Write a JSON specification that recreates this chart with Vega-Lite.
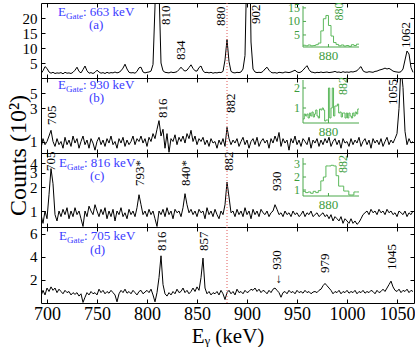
{
"$schema":"https://vega.github.io/schema/vega-lite/v6.json",
"background":"white",
"padding":{"left":5,"top":1,"right":2,"bottom":0},
"spacing":0,
"bounds":"flush",
"config":{"font":"Liberation Serif","view":{"stroke":"#000","strokeWidth":1},
"axis":{"grid":false,"domain":false,"tickColor":"#000","tickSize":-4,"tickWidth":1,"labelFont":"Liberation Serif","labelFontSize":15,"labelColor":"#000","labelPadding":8,"labelFlush":false,"labelOverlap":false,"titleFont":"Liberation Serif","titleFontWeight":"normal","titleColor":"#000"}},
"datasets":{
"a":[{"e":694,"c":1.5},{"e":696,"c":2.4},{"e":698,"c":3.8},{"e":700,"c":3.2},{"e":702,"c":2.0},{"e":704,"c":1.6},{"e":706,"c":1.9},{"e":708,"c":1.5},{"e":710,"c":1.7},{"e":712,"c":1.6},
{"e":714,"c":1.8},{"e":716,"c":1.4},{"e":718,"c":1.9},{"e":720,"c":1.6},{"e":722,"c":1.7},{"e":724,"c":1.5},{"e":726,"c":1.9},{"e":728,"c":2.6},{"e":730,"c":3.6},{"e":732,"c":2.2},
{"e":734,"c":1.7},{"e":736,"c":2.8},{"e":738,"c":4.0},{"e":740,"c":2.4},{"e":742,"c":1.6},{"e":744,"c":1.8},{"e":746,"c":1.5},{"e":748,"c":1.9},{"e":750,"c":2.6},{"e":752,"c":2.0},
{"e":754,"c":1.6},{"e":756,"c":1.8},{"e":758,"c":1.5},{"e":760,"c":1.9},{"e":762,"c":1.6},{"e":764,"c":1.8},{"e":766,"c":1.7},{"e":768,"c":2.0},{"e":770,"c":1.7},{"e":772,"c":1.9},
{"e":774,"c":2.4},{"e":776,"c":3.3},{"e":778,"c":4.6},{"e":780,"c":3.0},{"e":782,"c":1.9},{"e":784,"c":1.7},{"e":786,"c":1.8},{"e":788,"c":1.6},{"e":790,"c":2.2},{"e":792,"c":3.4},
{"e":794,"c":3.6},{"e":796,"c":2.0},{"e":798,"c":1.7},{"e":800,"c":1.9},{"e":802,"c":2.0},{"e":804,"c":2.3},{"e":806,"c":4.5},{"e":808,"c":24},{"e":810,"c":60},{"e":812,"c":30},
{"e":814,"c":5},{"e":816,"c":2.4},{"e":818,"c":1.9},{"e":820,"c":1.8},{"e":822,"c":1.7},{"e":824,"c":2.0},{"e":826,"c":1.8},{"e":828,"c":1.9},{"e":830,"c":2.1},{"e":832,"c":2.8},
{"e":834,"c":3.6},{"e":836,"c":2.8},{"e":838,"c":2.3},{"e":840,"c":2.6},{"e":842,"c":3.5},{"e":844,"c":4.4},{"e":846,"c":3.2},{"e":848,"c":2.4},{"e":850,"c":2.3},{"e":852,"c":3.5},
{"e":854,"c":4.0},{"e":856,"c":2.4},{"e":858,"c":1.8},{"e":860,"c":1.9},{"e":862,"c":1.7},{"e":864,"c":1.9},{"e":866,"c":1.6},{"e":868,"c":1.8},{"e":870,"c":1.7},{"e":872,"c":1.9},
{"e":874,"c":1.8},{"e":876,"c":2.2},{"e":878,"c":6.0},{"e":880,"c":12.8},{"e":882,"c":5.5},{"e":884,"c":2.2},{"e":886,"c":1.8},{"e":888,"c":1.7},{"e":890,"c":1.9},{"e":892,"c":1.8},
{"e":894,"c":2.0},{"e":896,"c":3.0},{"e":898,"c":7.5},{"e":900,"c":40},{"e":902,"c":60},{"e":904,"c":12},{"e":906,"c":3.0},{"e":908,"c":2.0},{"e":910,"c":1.8},{"e":912,"c":1.9},
{"e":914,"c":1.8},{"e":916,"c":2.2},{"e":918,"c":3.0},{"e":920,"c":3.6},{"e":922,"c":2.6},{"e":924,"c":1.9},{"e":926,"c":1.7},{"e":928,"c":1.8},{"e":930,"c":1.6},{"e":932,"c":1.9},
{"e":934,"c":1.8},{"e":936,"c":1.7},{"e":938,"c":2.0},{"e":940,"c":1.9},{"e":942,"c":1.8},{"e":944,"c":2.0},{"e":946,"c":2.3},{"e":948,"c":2.6},{"e":950,"c":2.0},{"e":952,"c":1.8},
{"e":954,"c":2.0},{"e":956,"c":2.6},{"e":958,"c":3.4},{"e":960,"c":4.1},{"e":962,"c":2.8},{"e":964,"c":2.0},{"e":966,"c":1.9},{"e":968,"c":1.7},{"e":970,"c":1.9},{"e":972,"c":1.8},
{"e":974,"c":2.0},{"e":976,"c":1.8},{"e":978,"c":1.9},{"e":980,"c":2.0},{"e":982,"c":1.8},{"e":984,"c":1.9},{"e":986,"c":2.0},{"e":988,"c":2.2},{"e":990,"c":1.9},{"e":992,"c":2.0},
{"e":994,"c":1.8},{"e":996,"c":2.1},{"e":998,"c":1.9},{"e":1000,"c":2.0},{"e":1002,"c":1.9},{"e":1004,"c":2.1},{"e":1006,"c":2.0},{"e":1008,"c":2.2},{"e":1010,"c":2.4},{"e":1012,"c":3.2},
{"e":1014,"c":3.8},{"e":1016,"c":2.4},{"e":1018,"c":2.0},{"e":1020,"c":1.9},{"e":1022,"c":2.1},{"e":1024,"c":2.0},{"e":1026,"c":1.9},{"e":1028,"c":2.2},{"e":1030,"c":2.3},{"e":1032,"c":2.6},
{"e":1034,"c":2.8},{"e":1036,"c":3.0},{"e":1038,"c":3.3},{"e":1040,"c":3.0},{"e":1042,"c":3.2},{"e":1044,"c":2.8},{"e":1046,"c":2.3},{"e":1048,"c":2.1},{"e":1050,"c":2.0},{"e":1052,"c":1.9},
{"e":1054,"c":2.1},{"e":1056,"c":3.0},{"e":1058,"c":6.0},{"e":1060,"c":9.0},{"e":1062,"c":8.0},{"e":1064,"c":3.5},{"e":1066,"c":1.9}],
"b":[{"e":694,"c":0.8},{"e":696,"c":1.1},{"e":698,"c":0.9},{"e":700,"c":1.0},{"e":702,"c":1.2},{"e":704,"c":1.45},{"e":706,"c":1.0},{"e":708,"c":0.85},{"e":710,"c":1.1},{"e":712,"c":0.9},
{"e":714,"c":1.0},{"e":716,"c":0.8},{"e":718,"c":1.15},{"e":720,"c":0.9},{"e":722,"c":1.05},{"e":724,"c":0.85},{"e":726,"c":1.2},{"e":728,"c":0.95},{"e":730,"c":1.1},{"e":732,"c":0.8},
{"e":734,"c":1.0},{"e":736,"c":1.2},{"e":738,"c":0.9},{"e":740,"c":1.05},{"e":742,"c":0.8},{"e":744,"c":1.1},{"e":746,"c":0.95},{"e":748,"c":0.75},{"e":750,"c":1.0},{"e":752,"c":1.15},
{"e":754,"c":0.9},{"e":756,"c":1.05},{"e":758,"c":0.85},{"e":760,"c":1.1},{"e":762,"c":0.95},{"e":764,"c":1.2},{"e":766,"c":0.9},{"e":768,"c":1.0},{"e":770,"c":0.8},{"e":772,"c":1.1},
{"e":774,"c":0.95},{"e":776,"c":1.15},{"e":778,"c":0.85},{"e":780,"c":1.05},{"e":782,"c":0.9},{"e":784,"c":1.0},{"e":786,"c":1.2},{"e":788,"c":0.9},{"e":790,"c":1.1},{"e":792,"c":1.0},
{"e":794,"c":1.2},{"e":796,"c":0.95},{"e":798,"c":1.1},{"e":800,"c":0.85},{"e":802,"c":1.15},{"e":804,"c":1.0},{"e":806,"c":1.3},{"e":808,"c":1.1},{"e":810,"c":1.5},{"e":812,"c":2.0},
{"e":814,"c":1.2},{"e":816,"c":1.5},{"e":818,"c":0.8},{"e":820,"c":1.3},{"e":822,"c":0.7},{"e":824,"c":1.1},{"e":826,"c":1.0},{"e":828,"c":1.25},{"e":830,"c":0.9},{"e":832,"c":1.15},
{"e":834,"c":1.0},{"e":836,"c":1.2},{"e":838,"c":0.95},{"e":840,"c":1.3},{"e":842,"c":1.1},{"e":844,"c":1.45},{"e":846,"c":1.0},{"e":848,"c":1.2},{"e":850,"c":0.9},{"e":852,"c":1.1},
{"e":854,"c":1.0},{"e":856,"c":1.15},{"e":858,"c":0.9},{"e":860,"c":1.05},{"e":862,"c":0.85},{"e":864,"c":1.1},{"e":866,"c":0.95},{"e":868,"c":1.0},{"e":870,"c":0.8},{"e":872,"c":1.05},
{"e":874,"c":0.9},{"e":876,"c":1.1},{"e":878,"c":0.85},{"e":880,"c":1.6},{"e":882,"c":1.1},{"e":884,"c":0.9},{"e":886,"c":1.05},{"e":888,"c":0.95},{"e":890,"c":1.1},{"e":892,"c":0.85},
{"e":894,"c":1.0},{"e":896,"c":1.15},{"e":898,"c":0.9},{"e":900,"c":1.05},{"e":902,"c":0.8},{"e":904,"c":1.0},{"e":906,"c":1.1},{"e":908,"c":0.9},{"e":910,"c":1.15},{"e":912,"c":0.85},
{"e":914,"c":1.0},{"e":916,"c":1.1},{"e":918,"c":0.95},{"e":920,"c":1.05},{"e":922,"c":0.8},{"e":924,"c":1.1},{"e":926,"c":0.95},{"e":928,"c":1.2},{"e":930,"c":1.0},{"e":932,"c":1.35},
{"e":934,"c":0.85},{"e":936,"c":1.1},{"e":938,"c":0.95},{"e":940,"c":1.05},{"e":942,"c":0.75},{"e":944,"c":1.1},{"e":946,"c":0.95},{"e":948,"c":1.2},{"e":950,"c":0.9},{"e":952,"c":1.05},
{"e":954,"c":0.85},{"e":956,"c":1.1},{"e":958,"c":1.0},{"e":960,"c":0.9},{"e":962,"c":1.15},{"e":964,"c":0.8},{"e":966,"c":1.05},{"e":968,"c":0.95},{"e":970,"c":1.1},{"e":972,"c":0.85},
{"e":974,"c":1.05},{"e":976,"c":0.9},{"e":978,"c":1.1},{"e":980,"c":0.95},{"e":982,"c":1.15},{"e":984,"c":0.85},{"e":986,"c":1.0},{"e":988,"c":1.1},{"e":990,"c":0.9},{"e":992,"c":1.05},
{"e":994,"c":0.8},{"e":996,"c":1.1},{"e":998,"c":0.95},{"e":1000,"c":1.0},{"e":1002,"c":0.85},{"e":1004,"c":1.1},{"e":1006,"c":0.9},{"e":1008,"c":1.05},{"e":1010,"c":0.95},{"e":1012,"c":1.15},
{"e":1014,"c":0.85},{"e":1016,"c":1.0},{"e":1018,"c":1.1},{"e":1020,"c":0.9},{"e":1022,"c":1.05},{"e":1024,"c":0.8},{"e":1026,"c":1.1},{"e":1028,"c":0.95},{"e":1030,"c":1.05},{"e":1032,"c":0.9},
{"e":1034,"c":1.1},{"e":1036,"c":0.85},{"e":1038,"c":1.0},{"e":1040,"c":1.15},{"e":1042,"c":0.9},{"e":1044,"c":1.05},{"e":1046,"c":0.95},{"e":1048,"c":1.1},{"e":1050,"c":1.3},{"e":1052,"c":3.0},
{"e":1054,"c":12},{"e":1056,"c":6.0},{"e":1058,"c":1.4},{"e":1060,"c":0.9},{"e":1062,"c":1.1},{"e":1064,"c":0.95},{"e":1066,"c":1.0}],
"c":[{"e":694,"c":0.9},{"e":696,"c":0.7},{"e":698,"c":1.0},{"e":700,"c":0.8},{"e":702,"c":1.6},{"e":704,"c":3.4},{"e":706,"c":2.2},{"e":708,"c":0.9},{"e":710,"c":0.75},{"e":712,"c":1.0},
{"e":714,"c":0.85},{"e":716,"c":1.05},{"e":718,"c":0.9},{"e":720,"c":1.1},{"e":722,"c":0.8},{"e":724,"c":1.0},{"e":726,"c":0.85},{"e":728,"c":1.1},{"e":730,"c":0.9},{"e":732,"c":1.0},
{"e":734,"c":0.8},{"e":736,"c":0.64},{"e":738,"c":1.0},{"e":740,"c":0.85},{"e":742,"c":1.15},{"e":744,"c":1.0},{"e":746,"c":0.9},{"e":748,"c":1.2},{"e":750,"c":1.0},{"e":752,"c":0.85},
{"e":754,"c":1.05},{"e":756,"c":0.9},{"e":758,"c":1.1},{"e":760,"c":0.8},{"e":762,"c":1.0},{"e":764,"c":0.85},{"e":766,"c":1.05},{"e":768,"c":0.75},{"e":770,"c":1.0},{"e":772,"c":0.9},
{"e":774,"c":1.1},{"e":776,"c":0.85},{"e":778,"c":0.95},{"e":780,"c":0.8},{"e":782,"c":1.05},{"e":784,"c":0.9},{"e":786,"c":1.0},{"e":788,"c":0.85},{"e":790,"c":1.1},{"e":792,"c":1.6},
{"e":794,"c":1.2},{"e":796,"c":0.9},{"e":798,"c":1.0},{"e":800,"c":0.85},{"e":802,"c":1.05},{"e":804,"c":0.9},{"e":806,"c":1.0},{"e":808,"c":0.8},{"e":810,"c":0.64},{"e":812,"c":1.0},
{"e":814,"c":0.9},{"e":816,"c":1.05},{"e":818,"c":0.85},{"e":820,"c":1.1},{"e":822,"c":0.9},{"e":824,"c":1.0},{"e":826,"c":0.8},{"e":828,"c":1.05},{"e":830,"c":0.95},{"e":832,"c":1.0},
{"e":834,"c":0.85},{"e":836,"c":1.1},{"e":838,"c":1.65},{"e":840,"c":1.2},{"e":842,"c":0.95},{"e":844,"c":1.05},{"e":846,"c":0.9},{"e":848,"c":1.0},{"e":850,"c":0.85},{"e":852,"c":1.05},
{"e":854,"c":0.95},{"e":856,"c":1.0},{"e":858,"c":0.8},{"e":860,"c":1.1},{"e":862,"c":0.9},{"e":864,"c":1.0},{"e":866,"c":0.85},{"e":868,"c":1.05},{"e":870,"c":0.9},{"e":872,"c":0.8},
{"e":874,"c":1.0},{"e":876,"c":0.9},{"e":878,"c":1.2},{"e":880,"c":2.3},{"e":882,"c":1.5},{"e":884,"c":0.95},{"e":886,"c":1.0},{"e":888,"c":0.85},{"e":890,"c":1.05},{"e":892,"c":0.9},
{"e":894,"c":1.0},{"e":896,"c":0.85},{"e":898,"c":1.1},{"e":900,"c":0.9},{"e":902,"c":1.0},{"e":904,"c":0.8},{"e":906,"c":1.05},{"e":908,"c":0.9},{"e":910,"c":1.0},{"e":912,"c":0.85},
{"e":914,"c":1.05},{"e":916,"c":0.95},{"e":918,"c":0.9},{"e":920,"c":1.0},{"e":922,"c":0.85},{"e":924,"c":0.95},{"e":926,"c":1.0},{"e":928,"c":1.2},{"e":930,"c":1.05},{"e":932,"c":0.9},
{"e":934,"c":0.95},{"e":936,"c":0.85},{"e":938,"c":1.0},{"e":940,"c":0.9},{"e":942,"c":0.95},{"e":944,"c":0.85},{"e":946,"c":1.0},{"e":948,"c":0.9},{"e":950,"c":0.95},{"e":952,"c":0.85},
{"e":954,"c":0.9},{"e":956,"c":1.0},{"e":958,"c":0.85},{"e":960,"c":0.95},{"e":962,"c":0.9},{"e":964,"c":1.0},{"e":966,"c":0.85},{"e":968,"c":0.9},{"e":970,"c":0.95},{"e":972,"c":0.85},
{"e":974,"c":0.9},{"e":976,"c":0.95},{"e":978,"c":0.85},{"e":980,"c":0.9},{"e":982,"c":0.8},{"e":984,"c":0.9},{"e":986,"c":0.75},{"e":988,"c":0.85},{"e":990,"c":0.8},{"e":992,"c":0.75},
{"e":994,"c":0.85},{"e":996,"c":0.7},{"e":998,"c":0.8},{"e":1000,"c":0.75},{"e":1002,"c":0.7},{"e":1004,"c":0.8},{"e":1006,"c":0.7},{"e":1008,"c":0.75},{"e":1010,"c":0.68},{"e":1012,"c":0.72},
{"e":1014,"c":0.8},{"e":1016,"c":0.9},{"e":1018,"c":0.95},{"e":1020,"c":1.0},{"e":1022,"c":0.9},{"e":1024,"c":1.05},{"e":1026,"c":0.95},{"e":1028,"c":1.0},{"e":1030,"c":0.9},{"e":1032,"c":1.05},
{"e":1034,"c":0.95},{"e":1036,"c":1.0},{"e":1038,"c":0.9},{"e":1040,"c":1.05},{"e":1042,"c":0.95},{"e":1044,"c":1.0},{"e":1046,"c":0.9},{"e":1048,"c":0.95},{"e":1050,"c":0.85},{"e":1052,"c":1.0},
{"e":1054,"c":0.95},{"e":1056,"c":0.9},{"e":1058,"c":1.0},{"e":1060,"c":0.85},{"e":1062,"c":0.95},{"e":1064,"c":0.9},{"e":1066,"c":1.0}],
"d":[{"e":694,"c":0.6},{"e":696,"c":1.1},{"e":698,"c":0.7},{"e":700,"c":1.3},{"e":702,"c":1.0},{"e":704,"c":1.4},{"e":706,"c":1.1},{"e":708,"c":1.3},{"e":710,"c":0.9},{"e":712,"c":1.2},
{"e":714,"c":1.0},{"e":716,"c":0.8},{"e":718,"c":1.1},{"e":720,"c":0.9},{"e":722,"c":1.0},{"e":724,"c":0.7},{"e":726,"c":0.9},{"e":728,"c":0.75},{"e":730,"c":0.9},{"e":732,"c":0.6},
{"e":734,"c":0.8},{"e":736,"c":0.05},{"e":738,"c":0.5},{"e":740,"c":0.9},{"e":742,"c":0.7},{"e":744,"c":1.0},{"e":746,"c":0.8},{"e":748,"c":0.9},{"e":750,"c":0.7},{"e":752,"c":1.2},
{"e":754,"c":0.9},{"e":756,"c":1.1},{"e":758,"c":0.8},{"e":760,"c":1.0},{"e":762,"c":0.85},{"e":764,"c":1.1},{"e":766,"c":0.9},{"e":768,"c":0.7},{"e":770,"c":0.1},{"e":772,"c":0.8},
{"e":774,"c":1.1},{"e":776,"c":0.9},{"e":778,"c":1.2},{"e":780,"c":0.85},{"e":782,"c":1.0},{"e":784,"c":0.8},{"e":786,"c":1.1},{"e":788,"c":0.9},{"e":790,"c":0.7},{"e":792,"c":1.0},
{"e":794,"c":1.1},{"e":796,"c":0.8},{"e":798,"c":0.95},{"e":800,"c":1.1},{"e":802,"c":0.9},{"e":804,"c":1.2},{"e":806,"c":0.7},{"e":808,"c":0.1},{"e":810,"c":0.9},{"e":812,"c":2.2},
{"e":814,"c":4.1},{"e":816,"c":1.6},{"e":818,"c":0.8},{"e":820,"c":0.6},{"e":822,"c":0.9},{"e":824,"c":0.7},{"e":826,"c":1.0},{"e":828,"c":0.8},{"e":830,"c":1.2},{"e":832,"c":0.9},
{"e":834,"c":1.0},{"e":836,"c":1.3},{"e":838,"c":0.9},{"e":840,"c":1.1},{"e":842,"c":0.8},{"e":844,"c":1.0},{"e":846,"c":1.3},{"e":848,"c":1.0},{"e":850,"c":1.4},{"e":852,"c":1.1},
{"e":854,"c":2.2},{"e":856,"c":3.9},{"e":858,"c":1.3},{"e":860,"c":0.8},{"e":862,"c":1.0},{"e":864,"c":0.7},{"e":866,"c":0.9},{"e":868,"c":0.8},{"e":870,"c":1.0},{"e":872,"c":0.7},
{"e":874,"c":1.1},{"e":876,"c":0.8},{"e":878,"c":0.3},{"e":880,"c":0.9},{"e":882,"c":1.1},{"e":884,"c":0.8},{"e":886,"c":1.0},{"e":888,"c":0.7},{"e":890,"c":1.2},{"e":892,"c":0.9},
{"e":894,"c":1.0},{"e":896,"c":0.8},{"e":898,"c":1.1},{"e":900,"c":0.9},{"e":902,"c":1.0},{"e":904,"c":1.2},{"e":906,"c":1.1},{"e":908,"c":1.3},{"e":910,"c":1.0},{"e":912,"c":1.2},
{"e":914,"c":0.9},{"e":916,"c":1.1},{"e":918,"c":1.0},{"e":920,"c":0.8},{"e":922,"c":1.1},{"e":924,"c":0.9},{"e":926,"c":1.2},{"e":928,"c":1.3},{"e":930,"c":1.1},{"e":932,"c":0.9},
{"e":934,"c":0.5},{"e":936,"c":0.9},{"e":938,"c":1.0},{"e":940,"c":0.8},{"e":942,"c":1.1},{"e":944,"c":0.9},{"e":946,"c":1.0},{"e":948,"c":0.8},{"e":950,"c":1.1},{"e":952,"c":0.9},
{"e":954,"c":1.0},{"e":956,"c":0.85},{"e":958,"c":1.1},{"e":960,"c":0.9},{"e":962,"c":1.0},{"e":964,"c":0.8},{"e":966,"c":0.95},{"e":968,"c":1.0},{"e":970,"c":0.9},{"e":972,"c":1.1},
{"e":974,"c":1.2},{"e":976,"c":1.5},{"e":978,"c":1.7},{"e":980,"c":1.5},{"e":982,"c":1.3},{"e":984,"c":1.1},{"e":986,"c":0.8},{"e":988,"c":1.0},{"e":990,"c":0.9},{"e":992,"c":1.1},
{"e":994,"c":0.8},{"e":996,"c":1.0},{"e":998,"c":0.9},{"e":1000,"c":1.1},{"e":1002,"c":0.85},{"e":1004,"c":1.0},{"e":1006,"c":0.9},{"e":1008,"c":1.1},{"e":1010,"c":0.8},{"e":1012,"c":1.0},
{"e":1014,"c":0.9},{"e":1016,"c":1.1},{"e":1018,"c":0.85},{"e":1020,"c":1.0},{"e":1022,"c":0.9},{"e":1024,"c":1.1},{"e":1026,"c":1.0},{"e":1028,"c":0.8},{"e":1030,"c":1.1},{"e":1032,"c":0.9},
{"e":1034,"c":1.0},{"e":1036,"c":1.2},{"e":1038,"c":1.0},{"e":1040,"c":1.3},{"e":1042,"c":1.6},{"e":1044,"c":1.9},{"e":1046,"c":1.4},{"e":1048,"c":1.1},{"e":1050,"c":1.0},{"e":1052,"c":1.2},
{"e":1054,"c":0.9},{"e":1056,"c":1.1},{"e":1058,"c":1.0},{"e":1060,"c":1.2},{"e":1062,"c":0.9},{"e":1064,"c":1.1},{"e":1066,"c":1.0}],
"ia":[{"e":870,"c":1.2},{"e":871,"c":1.0},{"e":872,"c":1.3},{"e":873,"c":1.0},{"e":874,"c":1.1},{"e":875,"c":1.4},{"e":876,"c":2.0},{"e":877,"c":6.5},{"e":878,"c":11.0},{"e":879,"c":12.2},{"e":880,"c":8.5},{"e":881,"c":4.6},{"e":882,"c":2.2},{"e":883,"c":1.5},{"e":884,"c":1.0},{"e":885,"c":1.3},{"e":886,"c":0.9},{"e":887,"c":1.1},{"e":888,"c":0.8},{"e":889,"c":1.4},{"e":890,"c":1.1},{"e":891,"c":1.6},{"e":892,"c":1.6}],
"ib":[{"e":870,"c":0.45},{"e":870.5,"c":0.7},{"e":871,"c":0.6},{"e":871.5,"c":0.7},{"e":872,"c":0.5},{"e":872.5,"c":0.75},{"e":873,"c":0.6},{"e":873.5,"c":0.8},{"e":874,"c":0.55},{"e":874.5,"c":0.7},{"e":875,"c":0.9},{"e":875.5,"c":0.6},{"e":876,"c":0.5},{"e":876.5,"c":0.95},{"e":877,"c":0.9},{"e":877.5,"c":1.0},{"e":878,"c":0.9},{"e":878.5,"c":0.35},{"e":879,"c":0.4},{"e":879.5,"c":0.4},{"e":880,"c":2.0},{"e":880.5,"c":0.5},{"e":881,"c":1.0},{"e":881.5,"c":2.0},{"e":882,"c":0.6},{"e":882.5,"c":1.1},{"e":883,"c":1.1},{"e":883.5,"c":1.2},{"e":884,"c":0.75},{"e":884.5,"c":0.8},{"e":885,"c":0.55},{"e":885.5,"c":0.75},{"e":886,"c":0.75},{"e":886.5,"c":0.5},{"e":887,"c":0.75},{"e":887.5,"c":0.5},{"e":888,"c":0.75},{"e":888.5,"c":0.6},{"e":889,"c":0.5},{"e":889.5,"c":0.75},{"e":890,"c":0.6},{"e":890.5,"c":0.8},{"e":891,"c":0.7},{"e":891.5,"c":0.95},{"e":892,"c":0.95}],
"ic":[{"e":870,"c":0.9},{"e":871,"c":0.8},{"e":872,"c":0.85},{"e":873,"c":0.75},{"e":874,"c":0.9},{"e":875,"c":0.8},{"e":876,"c":0.95},{"e":877,"c":1.7},{"e":878,"c":2.0},{"e":879,"c":2.85},{"e":880,"c":2.85},{"e":881,"c":2.9},{"e":882,"c":2.85},{"e":883,"c":2.1},{"e":884,"c":1.3},{"e":885,"c":1.3},{"e":886,"c":0.92},{"e":887,"c":0.92},{"e":888,"c":0.62},{"e":889,"c":0.62},{"e":890,"c":0.85},{"e":891,"c":0.85},{"e":892,"c":0.85}],
"lab":[{"p":"a","e":819,"c":17.7,"t":"810"},{"p":"a","e":834,"c":6.0,"t":"834"},{"p":"a","e":874,"c":17.3,"t":"880"},{"p":"a","e":909,"c":18,"t":"902"},{"p":"a","e":1059,"c":10,"t":"1062"},
{"p":"b","e":705,"c":1.73,"t":"705"},{"p":"b","e":816,"c":2.18,"t":"816"},{"p":"b","e":884,"c":2.57,"t":"882"},{"p":"b","e":1046,"c":3.36,"t":"1055"},
{"p":"c","e":704,"c":3.18,"t":"705"},{"p":"c","e":792.5,"c":2.06,"t":"793*"},{"p":"c","e":839,"c":2.06,"t":"840*"},{"p":"c","e":882,"c":3.18,"t":"882"},{"p":"c","e":930,"c":1.78,"t":"930"},
{"p":"d","e":815,"c":4.52,"t":"816"},{"p":"d","e":857,"c":4.52,"t":"857"},{"p":"d","e":930,"c":1.48,"t":"← 930"},{"p":"d","e":978,"c":2.6,"t":"979"},{"p":"d","e":1045,"c":2.87,"t":"1045"}],
"ttl":[{"p":"a","e":711,"c":20.67,"r":": 663 keV","l":"(a)"},{"p":"b","e":711,"c":5.7,"r":": 930 keV","l":"(b)"},{"p":"c","e":712,"c":3.56,"r":" : 816 keV","l":"(c)"},{"p":"d","e":712,"c":5.48,"r":": 705 keV","l":"(d)"}],
"tka":[{"v":5},{"v":10},{"v":15}],
"tkb":[{"v":1},{"v":2}],
"tkc":[{"v":1},{"v":2},{"v":3}]
},
"vconcat":[
{"width":373,"height":75,
"layer":[
 {"layer":[
  {"data":{"name":"a"},"mark":{"type":"line","color":"#000","strokeWidth":1,"clip":true},
   "encoding":{"x":{"field":"e","type":"quantitative","scale":{"domain":[694,1067],"nice":false,"zero":false},"axis":{"orient":"bottom","values":[700,750,800,850,900,950,1000,1050],"labels":false,"title":null}},
   "y":{"field":"c","type":"quantitative","scale":{"domain":[0,25],"nice":false,"zero":false},"axis":{"orient":"left","values":[5,10,15,20],"title":null}}}},
  {"data":{"values":[{"e":880}]},"mark":{"type":"rule","color":"#e05a5a","strokeDash":[1,2],"strokeWidth":1},
   "encoding":{"x":{"field":"e","type":"quantitative","scale":{"domain":[694,1067],"nice":false,"zero":false},"axis":{"orient":"top","values":[700,750,800,850,900,950,1000,1050],"labels":false,"title":null}}}},
  {"data":{"name":"lab"},"transform":[{"filter":"datum.p=='a'"}],"mark":{"type":"text","angle":270,"align":"left","baseline":"middle","fontSize":13,"color":"#000","font":"Liberation Serif"},
   "encoding":{"x":{"field":"e","type":"quantitative","scale":{"domain":[694,1067],"nice":false,"zero":false},"axis":null},
   "y":{"field":"c","type":"quantitative","scale":{"domain":[0,25],"nice":false,"zero":false},"axis":{"orient":"right","values":[5,10,15,20],"labels":false,"title":null}},"text":{"field":"t"}}},
  {"data":{"name":"ttl"},"transform":[{"filter":"datum.p=='a'"}],"mark":{"type":"text","text":"E","align":"left","baseline":"alphabetic","fontSize":13,"color":"#3b3bff","font":"Liberation Serif"},
   "encoding":{"x":{"field":"e","type":"quantitative","scale":{"domain":[694,1067],"nice":false,"zero":false},"axis":null},"y":{"field":"c","type":"quantitative","scale":{"domain":[0,25],"nice":false,"zero":false},"axis":null}}},
  {"data":{"name":"ttl"},"transform":[{"filter":"datum.p=='a'"}],"mark":{"type":"text","text":"Gate","align":"left","baseline":"alphabetic","fontSize":9,"dx":8,"dy":3,"color":"#3b3bff","font":"Liberation Serif"},
   "encoding":{"x":{"field":"e","type":"quantitative","scale":{"domain":[694,1067],"nice":false,"zero":false},"axis":null},"y":{"field":"c","type":"quantitative","scale":{"domain":[0,25],"nice":false,"zero":false},"axis":null}}},
  {"data":{"name":"ttl"},"transform":[{"filter":"datum.p=='a'"}],"mark":{"type":"text","align":"left","baseline":"alphabetic","fontSize":13,"dx":25,"color":"#3b3bff","font":"Liberation Serif"},
   "encoding":{"x":{"field":"e","type":"quantitative","scale":{"domain":[694,1067],"nice":false,"zero":false},"axis":null},"y":{"field":"c","type":"quantitative","scale":{"domain":[0,25],"nice":false,"zero":false},"axis":null},"text":{"field":"r"}}},
  {"data":{"name":"ttl"},"transform":[{"filter":"datum.p=='a'"}],"mark":{"type":"text","align":"left","baseline":"alphabetic","fontSize":13,"dx":31,"dy":13,"color":"#3b3bff","font":"Liberation Serif"},
   "encoding":{"x":{"field":"e","type":"quantitative","scale":{"domain":[694,1067],"nice":false,"zero":false},"axis":null},"y":{"field":"c","type":"quantitative","scale":{"domain":[0,25],"nice":false,"zero":false},"axis":null},"text":{"field":"l"}}}
 ],"resolve":{"axis":{"x":"independent","y":"independent"}}},
 {"layer":[
  {"data":{"name":"ia"},"mark":{"type":"line","interpolate":"step-after","color":"#5cb85c","strokeWidth":1},
   "encoding":{"x":{"field":"e","type":"quantitative","scale":{"domain":[870,892],"range":[262,318],"nice":false,"zero":false},"axis":null},
   "y":{"field":"c","type":"quantitative","scale":{"domain":[0.55,15.7],"range":[44,3],"nice":false,"zero":false},"axis":null}}},
  {"data":{"values":[{}]},"mark":{"type":"rule","color":"#4aa84a","strokeWidth":1},
   "encoding":{"x":{"datum":870,"type":"quantitative"},"y":{"datum":0.55,"type":"quantitative"},"y2":{"datum":15.7}}},
  {"data":{"values":[{}]},"mark":{"type":"rule","color":"#4aa84a","strokeWidth":1},
   "encoding":{"x":{"datum":870,"type":"quantitative"},"x2":{"datum":892},"y":{"datum":0.55,"type":"quantitative"}}},
  {"data":{"name":"tka"},"mark":{"type":"rule","color":"#4aa84a","strokeWidth":1},
   "encoding":{"x":{"datum":870,"type":"quantitative"},"x2":{"datum":871.2},"y":{"field":"v","type":"quantitative"}}},
  {"data":{"name":"tka"},"mark":{"type":"text","align":"right","baseline":"middle","dx":-3,"fontSize":12,"color":"#3c9c3c","font":"Liberation Serif"},
   "encoding":{"x":{"datum":870,"type":"quantitative"},"y":{"field":"v","type":"quantitative"},"text":{"field":"v"}}},
  {"data":{"values":[{}]},"mark":{"type":"rule","color":"#4aa84a","strokeWidth":1},
   "encoding":{"x":{"datum":880,"type":"quantitative"},"y":{"datum":0.55,"type":"quantitative"},"y2":{"datum":1.65}}},
  {"data":{"values":[{}]},"mark":{"type":"text","text":"880","align":"center","baseline":"top","dy":3,"fontSize":13,"color":"#3c9c3c","font":"Liberation Serif"},
   "encoding":{"x":{"datum":880,"type":"quantitative"},"y":{"datum":0.55,"type":"quantitative"}}},
  {"data":{"values":[{"e":884.2,"c":10.3,"t":"880"}]},"mark":{"type":"text","angle":270,"align":"left","baseline":"middle","fontSize":12,"color":"#3c9c3c","font":"Liberation Serif"},
   "encoding":{"x":{"field":"e","type":"quantitative"},"y":{"field":"c","type":"quantitative"},"text":{"field":"t"}}}
 ]}
],
"resolve":{"scale":{"x":"independent","y":"independent"}}},

{"width":373,"height":75,
"layer":[
 {"layer":[
  {"data":{"name":"b"},"mark":{"type":"line","color":"#000","strokeWidth":1,"clip":true},
   "encoding":{"x":{"field":"e","type":"quantitative","scale":{"domain":[694,1067],"nice":false,"zero":false},"axis":{"orient":"bottom","values":[700,750,800,850,900,950,1000,1050],"labels":false,"title":null}},
   "y":{"field":"c","type":"quantitative","scale":{"type":"log","domain":[0.683,8.23],"nice":false},"axis":{"orient":"left","values":[1,3,5],"title":"Counts (10²)","titleFontSize":24,"titleX":-23,"titleY":77,"titleAngle":270,"titleAlign":"center","titleBaseline":"middle"}}}},
  {"data":{"values":[{"e":880}]},"mark":{"type":"rule","color":"#e05a5a","strokeDash":[1,2],"strokeWidth":1},
   "encoding":{"x":{"field":"e","type":"quantitative","scale":{"domain":[694,1067],"nice":false,"zero":false},"axis":{"orient":"top","values":[700,750,800,850,900,950,1000,1050],"labels":false,"title":null}}}},
  {"data":{"name":"lab"},"transform":[{"filter":"datum.p=='b'"}],"mark":{"type":"text","angle":270,"align":"left","baseline":"middle","fontSize":13,"color":"#000","font":"Liberation Serif"},
   "encoding":{"x":{"field":"e","type":"quantitative","scale":{"domain":[694,1067],"nice":false,"zero":false},"axis":null},
   "y":{"field":"c","type":"quantitative","scale":{"type":"log","domain":[0.683,8.23],"nice":false},"axis":{"orient":"right","values":[1,3,5],"labels":false,"title":null}},"text":{"field":"t"}}},
  {"data":{"name":"ttl"},"transform":[{"filter":"datum.p=='b'"}],"mark":{"type":"text","text":"E","align":"left","baseline":"alphabetic","fontSize":13,"color":"#3b3bff","font":"Liberation Serif"},
   "encoding":{"x":{"field":"e","type":"quantitative","scale":{"domain":[694,1067],"nice":false,"zero":false},"axis":null},"y":{"field":"c","type":"quantitative","scale":{"type":"log","domain":[0.683,8.23],"nice":false},"axis":null}}},
  {"data":{"name":"ttl"},"transform":[{"filter":"datum.p=='b'"}],"mark":{"type":"text","text":"Gate","align":"left","baseline":"alphabetic","fontSize":9,"dx":8,"dy":3,"color":"#3b3bff","font":"Liberation Serif"},
   "encoding":{"x":{"field":"e","type":"quantitative","scale":{"domain":[694,1067],"nice":false,"zero":false},"axis":null},"y":{"field":"c","type":"quantitative","scale":{"type":"log","domain":[0.683,8.23],"nice":false},"axis":null}}},
  {"data":{"name":"ttl"},"transform":[{"filter":"datum.p=='b'"}],"mark":{"type":"text","align":"left","baseline":"alphabetic","fontSize":13,"dx":25,"color":"#3b3bff","font":"Liberation Serif"},
   "encoding":{"x":{"field":"e","type":"quantitative","scale":{"domain":[694,1067],"nice":false,"zero":false},"axis":null},"y":{"field":"c","type":"quantitative","scale":{"type":"log","domain":[0.683,8.23],"nice":false},"axis":null},"text":{"field":"r"}}},
  {"data":{"name":"ttl"},"transform":[{"filter":"datum.p=='b'"}],"mark":{"type":"text","align":"left","baseline":"alphabetic","fontSize":13,"dx":31,"dy":13,"color":"#3b3bff","font":"Liberation Serif"},
   "encoding":{"x":{"field":"e","type":"quantitative","scale":{"domain":[694,1067],"nice":false,"zero":false},"axis":null},"y":{"field":"c","type":"quantitative","scale":{"type":"log","domain":[0.683,8.23],"nice":false},"axis":null},"text":{"field":"l"}}}
 ],"resolve":{"axis":{"x":"independent","y":"independent"}}},
 {"layer":[
  {"data":{"name":"ib"},"mark":{"type":"line","interpolate":"step-after","color":"#5cb85c","strokeWidth":1},
   "encoding":{"x":{"field":"e","type":"quantitative","scale":{"domain":[870,892],"range":[262,318],"nice":false,"zero":false},"axis":null},
   "y":{"field":"c","type":"quantitative","scale":{"domain":[0.25,2.4],"range":[45,2],"nice":false,"zero":false},"axis":null}}},
  {"data":{"values":[{}]},"mark":{"type":"rule","color":"#4aa84a","strokeWidth":1},
   "encoding":{"x":{"datum":870,"type":"quantitative"},"y":{"datum":0.25,"type":"quantitative"},"y2":{"datum":2.4}}},
  {"data":{"values":[{}]},"mark":{"type":"rule","color":"#4aa84a","strokeWidth":1},
   "encoding":{"x":{"datum":870,"type":"quantitative"},"x2":{"datum":892},"y":{"datum":0.25,"type":"quantitative"}}},
  {"data":{"name":"tkb"},"mark":{"type":"rule","color":"#4aa84a","strokeWidth":1},
   "encoding":{"x":{"datum":870,"type":"quantitative"},"x2":{"datum":871.2},"y":{"field":"v","type":"quantitative"}}},
  {"data":{"name":"tkb"},"mark":{"type":"text","align":"right","baseline":"middle","dx":-3,"fontSize":12,"color":"#3c9c3c","font":"Liberation Serif"},
   "encoding":{"x":{"datum":870,"type":"quantitative"},"y":{"field":"v","type":"quantitative"},"text":{"field":"v"}}},
  {"data":{"values":[{}]},"mark":{"type":"rule","color":"#4aa84a","strokeWidth":1},
   "encoding":{"x":{"datum":880,"type":"quantitative"},"y":{"datum":0.25,"type":"quantitative"},"y2":{"datum":0.4}}},
  {"data":{"values":[{}]},"mark":{"type":"text","text":"880","align":"center","baseline":"top","dy":3,"fontSize":13,"color":"#3c9c3c","font":"Liberation Serif"},
   "encoding":{"x":{"datum":880,"type":"quantitative"},"y":{"datum":0.25,"type":"quantitative"}}},
  {"data":{"values":[{"e":885.9,"c":1.65,"t":"882"}]},"mark":{"type":"text","angle":270,"align":"left","baseline":"middle","fontSize":12,"color":"#3c9c3c","font":"Liberation Serif"},
   "encoding":{"x":{"field":"e","type":"quantitative"},"y":{"field":"c","type":"quantitative"},"text":{"field":"t"}}}
 ]}
],
"resolve":{"scale":{"x":"independent","y":"independent"}}},

{"width":373,"height":74,
"layer":[
 {"layer":[
  {"data":{"name":"c"},"mark":{"type":"line","color":"#000","strokeWidth":1,"clip":true},
   "encoding":{"x":{"field":"e","type":"quantitative","scale":{"domain":[694,1067],"nice":false,"zero":false},"axis":{"orient":"bottom","values":[700,750,800,850,900,950,1000,1050],"labels":false,"title":null}},
   "y":{"field":"c","type":"quantitative","scale":{"type":"log","domain":[0.63,5.34],"nice":false},"axis":{"orient":"left","values":[1,2,3,4],"title":null}}}},
  {"data":{"values":[{"e":880}]},"mark":{"type":"rule","color":"#e05a5a","strokeDash":[1,2],"strokeWidth":1},
   "encoding":{"x":{"field":"e","type":"quantitative","scale":{"domain":[694,1067],"nice":false,"zero":false},"axis":{"orient":"top","values":[700,750,800,850,900,950,1000,1050],"labels":false,"title":null}}}},
  {"data":{"name":"lab"},"transform":[{"filter":"datum.p=='c'"}],"mark":{"type":"text","angle":270,"align":"left","baseline":"middle","fontSize":13,"color":"#000","font":"Liberation Serif"},
   "encoding":{"x":{"field":"e","type":"quantitative","scale":{"domain":[694,1067],"nice":false,"zero":false},"axis":null},
   "y":{"field":"c","type":"quantitative","scale":{"type":"log","domain":[0.63,5.34],"nice":false},"axis":{"orient":"right","values":[1,2,3,4],"labels":false,"title":null}},"text":{"field":"t"}}},
  {"data":{"name":"ttl"},"transform":[{"filter":"datum.p=='c'"}],"mark":{"type":"text","text":"E","align":"left","baseline":"alphabetic","fontSize":13,"color":"#3b3bff","font":"Liberation Serif"},
   "encoding":{"x":{"field":"e","type":"quantitative","scale":{"domain":[694,1067],"nice":false,"zero":false},"axis":null},"y":{"field":"c","type":"quantitative","scale":{"type":"log","domain":[0.63,5.34],"nice":false},"axis":null}}},
  {"data":{"name":"ttl"},"transform":[{"filter":"datum.p=='c'"}],"mark":{"type":"text","text":"Gate","align":"left","baseline":"alphabetic","fontSize":9,"dx":8,"dy":3,"color":"#3b3bff","font":"Liberation Serif"},
   "encoding":{"x":{"field":"e","type":"quantitative","scale":{"domain":[694,1067],"nice":false,"zero":false},"axis":null},"y":{"field":"c","type":"quantitative","scale":{"type":"log","domain":[0.63,5.34],"nice":false},"axis":null}}},
  {"data":{"name":"ttl"},"transform":[{"filter":"datum.p=='c'"}],"mark":{"type":"text","align":"left","baseline":"alphabetic","fontSize":13,"dx":25,"color":"#3b3bff","font":"Liberation Serif"},
   "encoding":{"x":{"field":"e","type":"quantitative","scale":{"domain":[694,1067],"nice":false,"zero":false},"axis":null},"y":{"field":"c","type":"quantitative","scale":{"type":"log","domain":[0.63,5.34],"nice":false},"axis":null},"text":{"field":"r"}}},
  {"data":{"name":"ttl"},"transform":[{"filter":"datum.p=='c'"}],"mark":{"type":"text","align":"left","baseline":"alphabetic","fontSize":13,"dx":31,"dy":13,"color":"#3b3bff","font":"Liberation Serif"},
   "encoding":{"x":{"field":"e","type":"quantitative","scale":{"domain":[694,1067],"nice":false,"zero":false},"axis":null},"y":{"field":"c","type":"quantitative","scale":{"type":"log","domain":[0.63,5.34],"nice":false},"axis":null},"text":{"field":"l"}}}
 ],"resolve":{"axis":{"x":"independent","y":"independent"}}},
 {"layer":[
  {"data":{"name":"ic"},"mark":{"type":"line","interpolate":"step-after","color":"#5cb85c","strokeWidth":1},
   "encoding":{"x":{"field":"e","type":"quantitative","scale":{"domain":[870,892],"range":[262,318],"nice":false,"zero":false},"axis":null},
   "y":{"field":"c","type":"quantitative","scale":{"domain":[0.54,3.46],"range":[43,5],"nice":false,"zero":false},"axis":null}}},
  {"data":{"values":[{}]},"mark":{"type":"rule","color":"#4aa84a","strokeWidth":1},
   "encoding":{"x":{"datum":870,"type":"quantitative"},"y":{"datum":0.54,"type":"quantitative"},"y2":{"datum":3.46}}},
  {"data":{"values":[{}]},"mark":{"type":"rule","color":"#4aa84a","strokeWidth":1},
   "encoding":{"x":{"datum":870,"type":"quantitative"},"x2":{"datum":892},"y":{"datum":0.54,"type":"quantitative"}}},
  {"data":{"name":"tkc"},"mark":{"type":"rule","color":"#4aa84a","strokeWidth":1},
   "encoding":{"x":{"datum":870,"type":"quantitative"},"x2":{"datum":871.2},"y":{"field":"v","type":"quantitative"}}},
  {"data":{"name":"tkc"},"mark":{"type":"text","align":"right","baseline":"middle","dx":-3,"fontSize":12,"color":"#3c9c3c","font":"Liberation Serif"},
   "encoding":{"x":{"datum":870,"type":"quantitative"},"y":{"field":"v","type":"quantitative"},"text":{"field":"v"}}},
  {"data":{"values":[{}]},"mark":{"type":"rule","color":"#4aa84a","strokeWidth":1},
   "encoding":{"x":{"datum":880,"type":"quantitative"},"y":{"datum":0.54,"type":"quantitative"},"y2":{"datum":0.77}}},
  {"data":{"values":[{}]},"mark":{"type":"text","text":"880","align":"center","baseline":"top","dy":3,"fontSize":13,"color":"#3c9c3c","font":"Liberation Serif"},
   "encoding":{"x":{"datum":880,"type":"quantitative"},"y":{"datum":0.54,"type":"quantitative"}}},
  {"data":{"values":[{"e":885.9,"c":2.31,"t":"882"}]},"mark":{"type":"text","angle":270,"align":"left","baseline":"middle","fontSize":12,"color":"#3c9c3c","font":"Liberation Serif"},
   "encoding":{"x":{"field":"e","type":"quantitative"},"y":{"field":"c","type":"quantitative"},"text":{"field":"t"}}}
 ]}
],
"resolve":{"scale":{"x":"independent","y":"independent"}}},

{"width":373,"height":76,
"layer":[
  {"data":{"name":"d"},"mark":{"type":"line","color":"#000","strokeWidth":1,"clip":true},
   "encoding":{"x":{"field":"e","type":"quantitative","scale":{"domain":[694,1067],"nice":false,"zero":false},"axis":{"orient":"bottom","values":[700,750,800,850,900,950,1000,1050],"format":"d","labelFontSize":18,"labelPadding":6,"title":"Eᵧ (keV)","titleFontSize":21,"titlePadding":2}},
   "y":{"field":"c","type":"quantitative","scale":{"domain":[0,6.6],"nice":false,"zero":false},"axis":{"orient":"left","values":[2,4,6],"title":null}}}},
  {"data":{"values":[{"e":880}]},"mark":{"type":"rule","color":"#e05a5a","strokeDash":[1,2],"strokeWidth":1},
   "encoding":{"x":{"field":"e","type":"quantitative","scale":{"domain":[694,1067],"nice":false,"zero":false},"axis":{"orient":"top","values":[700,750,800,850,900,950,1000,1050],"labels":false,"title":null}}}},
  {"data":{"name":"lab"},"transform":[{"filter":"datum.p=='d'"}],"mark":{"type":"text","angle":270,"align":"left","baseline":"middle","fontSize":13,"color":"#000","font":"Liberation Serif"},
   "encoding":{"x":{"field":"e","type":"quantitative","scale":{"domain":[694,1067],"nice":false,"zero":false},"axis":null},
   "y":{"field":"c","type":"quantitative","scale":{"domain":[0,6.6],"nice":false,"zero":false},"axis":{"orient":"right","values":[2,4,6],"labels":false,"title":null}},"text":{"field":"t"}}},
  {"data":{"name":"ttl"},"transform":[{"filter":"datum.p=='d'"}],"mark":{"type":"text","text":"E","align":"left","baseline":"alphabetic","fontSize":13,"color":"#3b3bff","font":"Liberation Serif"},
   "encoding":{"x":{"field":"e","type":"quantitative","scale":{"domain":[694,1067],"nice":false,"zero":false},"axis":null},"y":{"field":"c","type":"quantitative","scale":{"domain":[0,6.6],"nice":false,"zero":false},"axis":null}}},
  {"data":{"name":"ttl"},"transform":[{"filter":"datum.p=='d'"}],"mark":{"type":"text","text":"Gate","align":"left","baseline":"alphabetic","fontSize":9,"dx":8,"dy":3,"color":"#3b3bff","font":"Liberation Serif"},
   "encoding":{"x":{"field":"e","type":"quantitative","scale":{"domain":[694,1067],"nice":false,"zero":false},"axis":null},"y":{"field":"c","type":"quantitative","scale":{"domain":[0,6.6],"nice":false,"zero":false},"axis":null}}},
  {"data":{"name":"ttl"},"transform":[{"filter":"datum.p=='d'"}],"mark":{"type":"text","align":"left","baseline":"alphabetic","fontSize":13,"dx":25,"color":"#3b3bff","font":"Liberation Serif"},
   "encoding":{"x":{"field":"e","type":"quantitative","scale":{"domain":[694,1067],"nice":false,"zero":false},"axis":null},"y":{"field":"c","type":"quantitative","scale":{"domain":[0,6.6],"nice":false,"zero":false},"axis":null},"text":{"field":"r"}}},
  {"data":{"name":"ttl"},"transform":[{"filter":"datum.p=='d'"}],"mark":{"type":"text","align":"left","baseline":"alphabetic","fontSize":13,"dx":31,"dy":14,"color":"#3b3bff","font":"Liberation Serif"},
   "encoding":{"x":{"field":"e","type":"quantitative","scale":{"domain":[694,1067],"nice":false,"zero":false},"axis":null},"y":{"field":"c","type":"quantitative","scale":{"domain":[0,6.6],"nice":false,"zero":false},"axis":null},"text":{"field":"l"}}}
],
"resolve":{"axis":{"x":"independent","y":"independent"}}}
]
}
